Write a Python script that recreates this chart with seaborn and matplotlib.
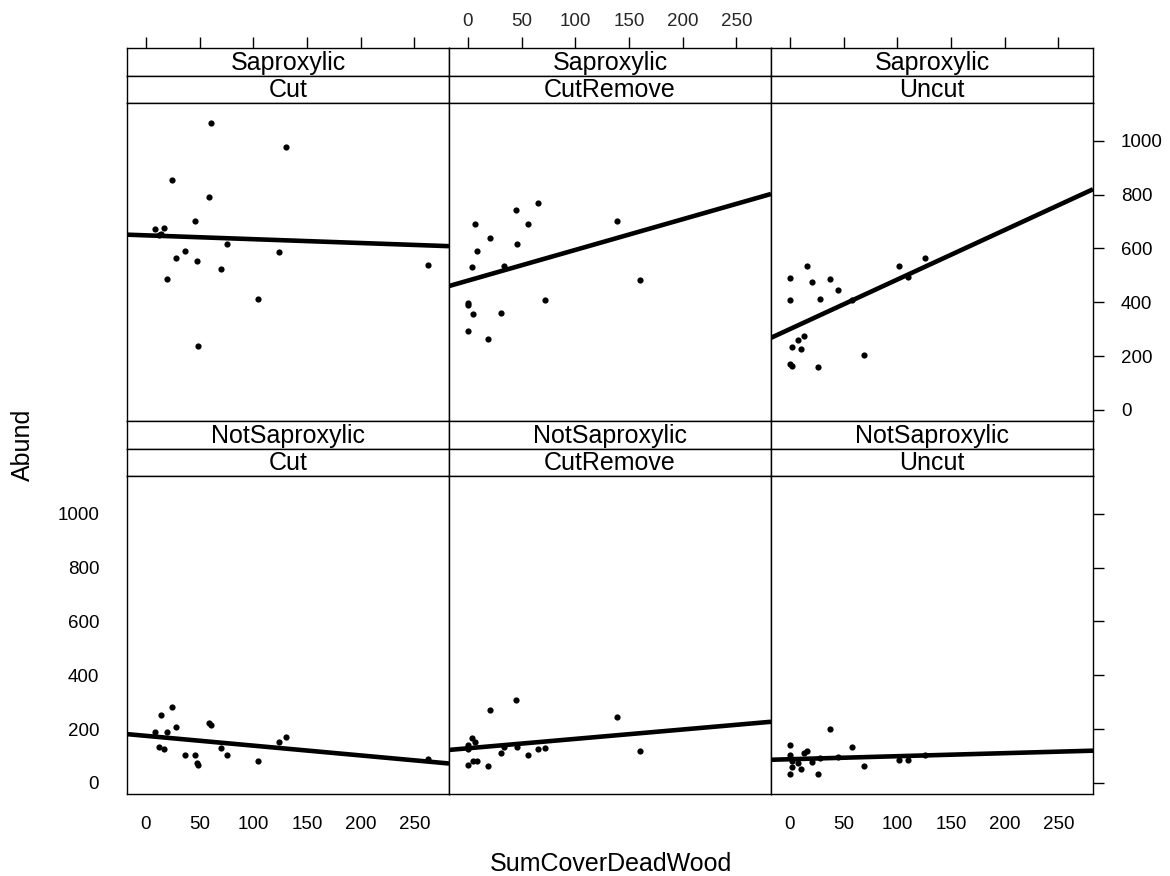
import matplotlib
matplotlib.use("Agg")
import matplotlib.pyplot as plt
import numpy as np
import pandas as pd
import seaborn as sns

# ---------------- data ----------------
treatments = ["Cut", "CutRemove", "Uncut"]
groups = ["Saproxylic", "NotSaproxylic"]

cut_x = [8.1, 12.4, 14.0, 17.1, 19.9, 24.5, 27.6, 36.6, 45.7, 47.2, 48.8, 59.0, 60.9, 69.9, 75.8, 104.3, 123.9, 130.1, 262.4]
cut_sap = [671, 650, 655, 676, 486, 854, 565, 591, 702, 554, 239, 791, 1066, 523, 617, 413, 586, 975, 538]
cut_not = [188, 135, 251, 125, 188, 283, 209, 104, 104, 73, 66, 221, 214, 131, 104, 83, 152, 172, 89]

cutremove_x = [0, 0, 0, 3.4, 5.0, 6.8, 8.4, 18.6, 20.2, 30.4, 33.9, 44.4, 45.7, 56.2, 65.2, 71.4, 139.1, 160.3]
cutremove_sap = [397, 388, 292, 531, 355, 692, 591, 265, 638, 360, 533, 744, 617, 692, 770, 407, 702, 481]
cutremove_not = [141, 126, 66, 168, 83, 153, 83, 63, 272, 110, 132, 308, 135, 104, 125, 131, 246, 120]

uncut_x = [0, 0, 0, 1.9, 2.2, 7.1, 9.9, 13.0, 16.1, 20.5, 26.4, 28.0, 37.0, 44.4, 58.1, 68.9, 101.9, 110.0, 125.8]
uncut_sap = [491, 407, 170, 164, 234, 260, 227, 276, 533, 475, 159, 413, 486, 444, 410, 203, 533, 495, 564]
uncut_not = [141, 104, 35, 60, 80, 75, 50, 113, 120, 76, 35, 91, 199, 95, 135, 63, 87, 87, 104]

x_ticks = [0, 50, 100, 150, 200, 250]
y_ticks = [0, 200, 400, 600, 800, 1000]

series = {
    ("Cut", "Saproxylic"): (cut_x, cut_sap),
    ("Cut", "NotSaproxylic"): (cut_x, cut_not),
    ("CutRemove", "Saproxylic"): (cutremove_x, cutremove_sap),
    ("CutRemove", "NotSaproxylic"): (cutremove_x, cutremove_not),
    ("Uncut", "Saproxylic"): (uncut_x, uncut_sap),
    ("Uncut", "NotSaproxylic"): (uncut_x, uncut_not),
}
rows = []
for (t, g), (xs, ys) in series.items():
    for xv, yv in zip(xs, ys):
        rows.append({"Treatment": t, "Group": g, "SumCoverDeadWood": xv, "Abund": yv})
df = pd.DataFrame(rows)

# ---------------- style ----------------
sns.set_theme(style="white")
plt.rcParams["font.family"] = ["Liberation Sans", "DejaVu Sans"]
plt.rcParams["text.color"] = "black"
plt.rcParams["axes.labelcolor"] = "black"

W, H = 1170, 876
fig = plt.figure(figsize=(W / 100, H / 100), dpi=100)

def fax(x0, y0, x1, y1):
    return fig.add_axes([x0 / W, 1 - y1 / H, (x1 - x0) / W, (y1 - y0) / H])

XLIM = (-17.7, 282.3)
YLIM = (-41, 1140)
TICK_FS = 13.5
STRIP_FS = 18

cols = [(127, 449), (449, 771), (771, 1093)]
row_geom = {
    "Saproxylic": dict(s1=(48, 76), s2=(76, 103), p=(103, 421)),
    "NotSaproxylic": dict(s1=(421, 449), s2=(449, 476), p=(476, 794)),
}

def style_spines(ax):
    for sp in ax.spines.values():
        sp.set_color("black")
        sp.set_linewidth(1.0)
        sp.set_visible(True)

def strip(x0, x1, y0, y1, text):
    s = fax(x0, y0, x1, y1)
    s.set_xlim(XLIM)
    s.set_ylim(0, 1)
    s.set_xticks([])
    s.set_yticks([])
    s.set_facecolor("white")
    style_spines(s)
    s.text(0.5, 0.47, text, ha="center", va="center", fontsize=STRIP_FS,
           transform=s.transAxes, color="black")
    return s

for ri, g in enumerate(groups):
    geo = row_geom[g]
    for ci, t in enumerate(treatments):
        x0, x1 = cols[ci]
        s1 = strip(x0, x1, geo["s1"][0], geo["s1"][1], g)
        strip(x0, x1, geo["s2"][0], geo["s2"][1], t)
        ax = fax(x0, geo["p"][0], x1, geo["p"][1])
        ax.set_xlim(XLIM)
        ax.set_ylim(YLIM)
        sub = df[(df.Treatment == t) & (df.Group == g)]
        sns.regplot(data=sub, x="SumCoverDeadWood", y="Abund", ax=ax, ci=None,
                    truncate=False, color="black", marker="o",
                    scatter_kws=dict(s=20, linewidths=0, alpha=1),
                    line_kws=dict(lw=3.3, solid_capstyle="butt"))
        ax.set_xlim(XLIM)
        ax.set_ylim(YLIM)
        ax.set_xlabel("")
        ax.set_ylabel("")
        ax.set_facecolor("white")
        style_spines(ax)
        ax.tick_params(direction="out", length=8, width=1, color="black",
                       labelsize=TICK_FS, labelcolor="black")

        # x ticks
        if ri == 0:
            ax.set_xticks([])
            s1.xaxis.tick_top()
            s1.set_xticks(x_ticks)
            s1.tick_params(axis="x", direction="out", length=8, width=1,
                           color="black", labelsize=TICK_FS, pad=5)
            if ci != 1:
                s1.set_xticklabels([])
        else:
            ax.set_xticks(x_ticks)
            ax.tick_params(axis="x", pad=8)
            if ci == 1:
                ax.set_xticklabels([])
        # y ticks
        if ci == 1:
            ax.set_yticks([])
        else:
            ax.set_yticks(y_ticks)
            if ci == 2:
                ax.yaxis.tick_right()
            ax.tick_params(axis="y", pad=12)
            if not ((ri == 0 and ci == 2) or (ri == 1 and ci == 0)):
                ax.set_yticklabels([])

fig.text(611 / W, 1 - 864 / H, "SumCoverDeadWood", ha="center", va="center", fontsize=18, color="black")
fig.text(23 / W, 1 - 445 / H, "Abund", ha="center", va="center", fontsize=18, rotation=90, color="black")

fig.savefig("out.png", dpi=100, facecolor="white")
